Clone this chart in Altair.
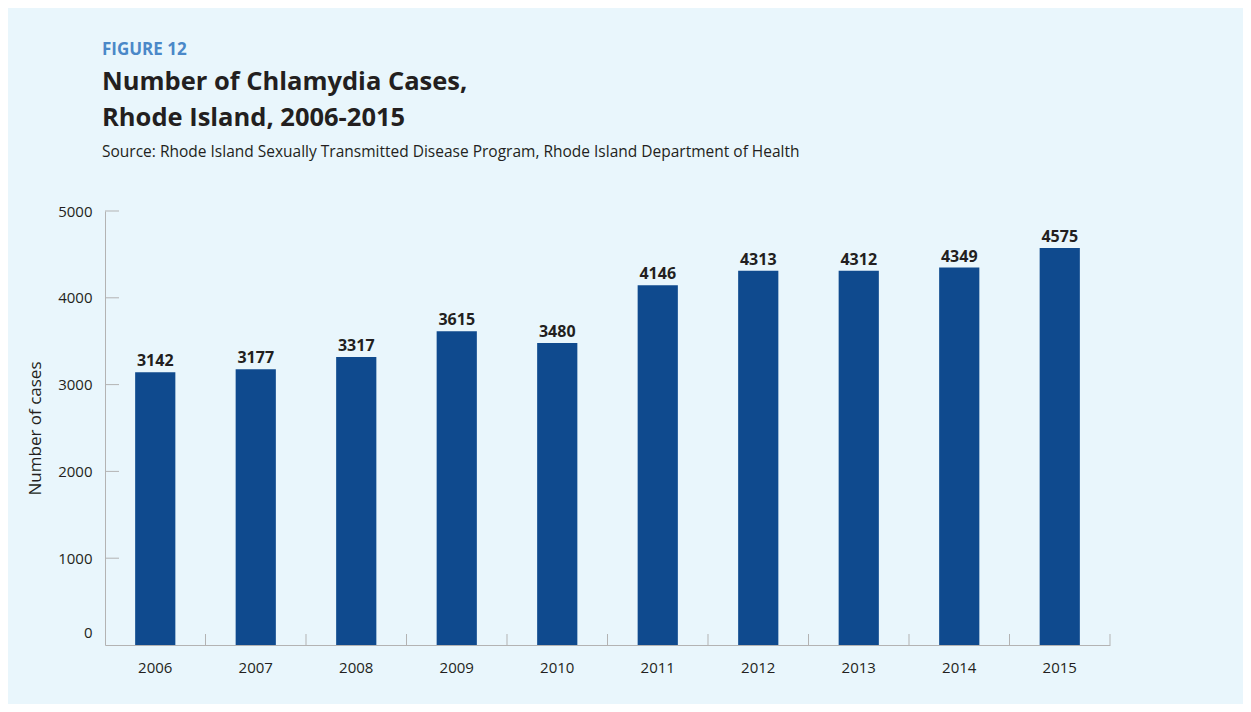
import altair as alt
import pandas as pd

# ---- data ----
years = ["2006", "2007", "2008", "2009", "2010", "2011", "2012", "2013", "2014", "2015"]
cases = [3142, 3177, 3317, 3615, 3480, 4146, 4313, 4312, 4349, 4575]
y_tick_values = [0, 1000, 2000, 3000, 4000, 5000]

figure_label = "FIGURE 12"
title_lines = ["Number of Chlamydia Cases,", "Rhode Island, 2006-2015"]
source_line = "Source: Rhode Island Sexually Transmitted Disease Program, Rhode Island Department of Health"
y_title = "Number of cases"

df = pd.DataFrame({"year": years, "cases": cases})
yticks_df = pd.DataFrame({"v": y_tick_values[1:]})

# ---- style ----
W, H = 1005, 434
STEP = W / len(years)
FONT = "Open Sans"
TEXT = "#231f20"
GRAY = "#b3b3b3"
BAR = "#0f4a8e"
BG = "#e9f6fc"
BLUE_LABEL = "#4a88c8"

x_scale = alt.Scale(domain=years, paddingInner=0.6, paddingOuter=0.3)
x_axis = alt.Axis(
    title=None, ticks=False, tickSize=0, labelAngle=0, labelFont=FONT,
    labelFontSize=15, labelColor=TEXT, labelPadding=15, domainColor=GRAY,
    domainWidth=1, grid=False,
)
x_enc = alt.X("year:N", sort=years, scale=x_scale, axis=x_axis)

y_scale = alt.Scale(domain=[0, 5000], nice=False)
y_axis = alt.Axis(
    values=y_tick_values, format="d", title=y_title, titleFont=FONT, titleFontSize=17,
    titleFontWeight="normal", titleColor=TEXT, titlePadding=13,
    labelFont=FONT, labelFontSize=15, labelColor=TEXT, labelPadding=13,
    labelOffset={"condition": {"test": "datum.value === 0", "value": -13}, "value": 0},
    ticks=False, tickSize=0, grid=False, domainColor=GRAY, domainWidth=1,
)

base = alt.Chart(df)

bars = base.mark_bar(color=BAR).encode(
    x=x_enc,
    y=alt.Y("cases:Q", scale=y_scale, axis=y_axis),
)

labels = base.mark_text(
    font=FONT, fontSize=16, fontWeight="bold", color=TEXT,
    baseline="alphabetic", dy=-6,
).encode(
    x=x_enc,
    y=alt.Y("cases:Q", scale=y_scale, axis=y_axis),
    text=alt.Text("cases:Q", format="d"),
)

xticks = base.mark_rule(color=GRAY, strokeWidth=1, xOffset=STEP / 2).encode(
    x=x_enc,
    y=alt.value(H),
    y2=alt.value(H - 11),
)

yticks = alt.Chart(yticks_df).mark_rule(color=GRAY, strokeWidth=1).encode(
    y=alt.Y("v:Q", scale=y_scale, axis=y_axis),
    x=alt.value(0),
    x2=alt.value(14),
)


def header_text(text, y, size, weight, color):
    return alt.Chart(pd.DataFrame({"t": [text]})).mark_text(
        align="left", baseline="alphabetic", font=FONT, fontSize=size,
        fontWeight=weight, color=color,
    ).encode(text="t:N", x=alt.value(-3), y=alt.value(y))


header = [
    header_text(figure_label, -156.5, 17, "bold", BLUE_LABEL),
    header_text(title_lines[0], -121.5, 25.5, "bold", TEXT),
    header_text(title_lines[1], -85.5, 25.5, "bold", TEXT),
    header_text(source_line, -54.5, 15.5, "normal", TEXT),
]

chart = alt.layer(bars, labels, xticks, yticks, *header).properties(
    width=W,
    height=H,
    background=BG,
    padding={"left": 97, "top": 203, "right": 133, "bottom": 59},
    autosize=alt.AutoSizeParams(type="none"),
).configure_view(stroke=None)

chart.save("out.html", embed_options={"renderer": "svg", "actions": False})
